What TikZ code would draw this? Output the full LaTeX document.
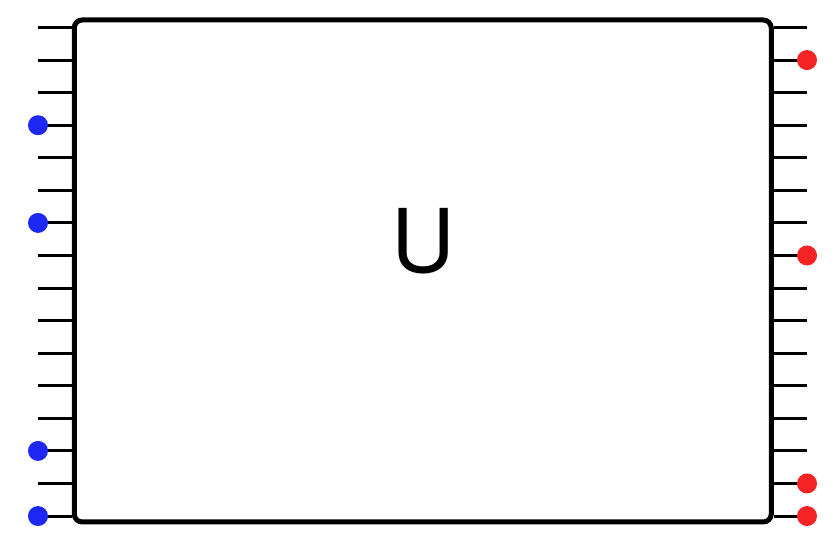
\documentclass[tikz,border=0pt]{standalone}
\usepackage{fontspec}
\setmainfont{TeX Gyre Heros}
\definecolor{dotblue}{RGB}{30,40,245}
\definecolor{dotred}{RGB}{245,35,35}

\begin{document}
\begin{tikzpicture}[x=0.5pt,y=-0.5pt,
  wire/.style={line width=1.5pt},
  gate/.style={line width=2.5pt,rounded corners=4pt,
    minimum width=348.5pt,minimum height=251pt,inner sep=0pt},
  indot/.style={circle,fill=dotblue,inner sep=0pt,minimum size=10pt},
  outdot/.style={circle,fill=dotred,inner sep=0pt,minimum size=10pt}]
  \useasboundingbox (0,0) rectangle (840,549);
  \coordinate (c) at (422.75,271);
  \node[gate] (U) at (c) {};
  \foreach \i in {0,...,15} {
    \coordinate (l\i) at (38,27.5+\i*32.57);
    \coordinate (r\i) at (807,27.5+\i*32.57);
    \draw[wire] (l\i) -- (l\i -| U.west);
    \draw[wire] (r\i) -- (r\i -| U.east);
  }
  \node[gate,draw] (box) at (c) {};
  \node[font=\fontsize{44}{44}\selectfont] (name) at (423.5,241.5) {U};
  \foreach \i in {3,6,13,15}
    \node[indot] at (l\i) {};
  \foreach \i in {1,7,14,15}
    \node[outdot] at (r\i) {};
\end{tikzpicture}
\end{document}
